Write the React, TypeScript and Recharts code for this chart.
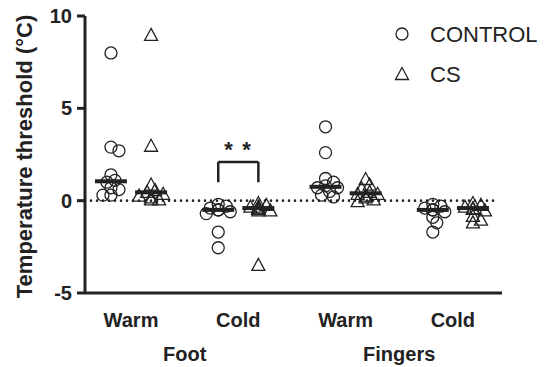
import { ReferenceDot, ReferenceLine, Scatter, ScatterChart, XAxis, YAxis } from "recharts";

const conditions = ["Warm", "Cold", "Warm", "Cold"];
const regions = ["Foot", "Fingers"];
const conditionTicks = [0, 1, 2, 3];
const regionTicks = [0.5, 2.5];
const yTicks = [-5, 0, 5, 10];

// thresholds per condition (Foot warm, Foot cold, Fingers warm, Fingers cold)
const controlValues = [
  [8.0, 2.9, 2.7, 1.4, 1.1, 1.0, 0.7, 0.6, 0.3, 0.3],
  [-0.2, -0.3, -0.4, -0.5, -0.5, -0.5, -0.6, -0.7, -1.7, -2.55],
  [4.0, 2.6, 1.2, 1.0, 0.8, 0.7, 0.7, 0.5, 0.3, 0.2],
  [-0.2, -0.3, -0.4, -0.5, -0.5, -0.5, -0.6, -0.9, -1.2, -1.7],
];
const csValues = [
  [9.0, 3.0, 0.9, 0.6, 0.5, 0.4, 0.3, 0.2, 0.1, 0.1],
  [-0.1, -0.2, -0.3, -0.3, -0.4, -0.4, -0.4, -0.5, -0.5, -3.45],
  [1.2, 0.9, 0.7, 0.5, 0.4, 0.4, 0.3, 0.2, 0.1, 0.0],
  [-0.1, -0.2, -0.3, -0.4, -0.4, -0.4, -0.5, -0.8, -1.0, -1.15],
];

// significance bracket on foot / cold
const bracketGroup = 1;
const bracketLow = 1.0;
const bracketHigh = 2.1;
const starLevel = 2.35;

const INK = "#222";
const FONT = "'Liberation Sans', Arial, Helvetica, sans-serif";
const X_MIN = -0.429;
const X_MAX = 3.458;
const PAIR = 0.187;
const PX_X = 107.3;
const PX_Y = 18.47;

function median(vals: number[]) {
  const s = [...vals].sort((a, b) => a - b);
  const m = Math.floor(s.length / 2);
  return s.length % 2 ? s[m] : (s[m - 1] + s[m]) / 2;
}

// simple beeswarm so overlapping symbols spread sideways
function swarm(vals: number[], center: number) {
  const placed: { px: number; py: number }[] = [];
  const out: { x: number; y: number }[] = [];
  const order = [0, 1, -1, 2, -2, 3, -3];
  for (const v of [...vals].sort((a, b) => b - a)) {
    const py = v * PX_Y;
    let px = 0;
    for (const k of order) {
      const cand = k * 4;
      const hit = placed.some((p) => Math.hypot(p.px - cand, p.py - py) < 6);
      if (!hit) {
        px = cand;
        break;
      }
    }
    placed.push({ px, py });
    out.push({ x: center + px / PX_X, y: v });
  }
  return out;
}

const controlPoints = controlValues.flatMap((vals, g) => swarm(vals, g - PAIR));
const csPoints = csValues.flatMap((vals, g) => swarm(vals, g + PAIR));
const medians = [
  ...controlValues.map((vals, g) => ({ x: g - PAIR, y: median(vals) })),
  ...csValues.map((vals, g) => ({ x: g + PAIR, y: median(vals) })),
];

const Circle = (p: any) => <circle cx={p.cx} cy={p.cy} r={6} fill="none" stroke={INK} strokeWidth={1.3} />;
const Tri = (p: any) => (
  <polygon
    points={`${p.cx},${p.cy - 6} ${p.cx - 6.5},${p.cy + 6} ${p.cx + 6.5},${p.cy + 6}`}
    fill="none"
    stroke={INK}
    strokeWidth={1.3}
  />
);
const MedianBar = (p: any) => <rect x={p.cx - 16} y={p.cy - 2} width={32} height={4} fill={INK} />;

// condition labels on the first row, region labels on the second
const XTick = (p: any) => {
  const v = p.payload.value;
  const isRegion = regionTicks.includes(v);
  const label = isRegion ? regions[regionTicks.indexOf(v)] : conditions[conditionTicks.indexOf(v)];
  return (
    <text x={p.x} y={p.y + (isRegion ? 68 : 34)} textAnchor="middle" fontFamily={FONT} fontSize={20} fontWeight="bold" fill={INK}>
      {label}
    </text>
  );
};

const YLabel = (p: any) => {
  const vb = p.viewBox;
  const x = vb.x + 32;
  const y = vb.y + vb.height / 2 + 2;
  return (
    <text x={x} y={y} transform={`rotate(-90, ${x}, ${y})`} textAnchor="middle" fontFamily={FONT} fontSize={22} fontWeight="bold" fill={INK}>
      Temperature threshold (°C)
    </text>
  );
};

export default function App() {
  const tickFont = { fontFamily: FONT, fontSize: 20, fontWeight: "bold", fill: INK };
  return (
    <div style={{ position: "absolute", left: 0, top: 0, width: 544, height: 367 }}>
      <ScatterChart width={544} height={367} margin={{ top: 16, right: 42, bottom: 0, left: 0 }}>
        <XAxis
          dataKey="x"
          type="number"
          domain={[X_MIN, X_MAX]}
          ticks={[...conditionTicks, ...regionTicks].sort((a, b) => a - b)}
          allowDataOverflow
          height={74}
          tickLine={false}
          tickSize={0}
          tickMargin={0}
          axisLine={{ stroke: INK, strokeWidth: 3 }}
          tick={XTick}
          interval={0}
        />
        <YAxis
          dataKey="y"
          type="number"
          domain={[-5, 10]}
          ticks={yTicks}
          width={85}
          tickSize={8}
          tickMargin={5}
          tick={tickFont}
          tickLine={{ stroke: INK, strokeWidth: 3 }}
          axisLine={{ stroke: INK, strokeWidth: 3 }}
          interval={0}
          label={{ value: "Temperature threshold (°C)", content: YLabel }}
        />
        <ReferenceLine
          segment={[{ x: X_MIN, y: 0 }, { x: 3.38, y: 0 }]}
          stroke={INK}
          strokeWidth={2.6}
          strokeDasharray="0 6"
          strokeLinecap="round"
        />
        <Scatter name="CONTROL" data={controlPoints} shape={Circle} isAnimationActive={false} />
        <Scatter name="CS" data={csPoints} shape={Tri} isAnimationActive={false} />
        <Scatter name="median" data={medians} shape={MedianBar} isAnimationActive={false} legendType="none" />
        <ReferenceLine segment={[{ x: bracketGroup - PAIR, y: bracketLow }, { x: bracketGroup - PAIR, y: bracketHigh }]} stroke={INK} strokeWidth={2.5} />
        <ReferenceLine segment={[{ x: bracketGroup - PAIR, y: bracketHigh }, { x: bracketGroup + PAIR, y: bracketHigh }]} stroke={INK} strokeWidth={2.5} />
        <ReferenceLine segment={[{ x: bracketGroup + PAIR, y: bracketLow }, { x: bracketGroup + PAIR, y: bracketHigh }]} stroke={INK} strokeWidth={2.5} />
        <ReferenceDot
          x={bracketGroup}
          y={starLevel}
          r={0}
          shape={(p: any) => (
            <text x={p.cx} y={p.cy} textAnchor="middle" fontFamily={FONT} fontSize={22} fontWeight="bold" letterSpacing={1.6} fill={INK}>
              * *
            </text>
          )}
        />
      </ScatterChart>
      <svg width={150} height={80} style={{ position: "absolute", left: 390, top: 18 }}>
        <circle cx={12} cy={16} r={6} fill="none" stroke={INK} strokeWidth={1.3} />
        <text x={40} y={24} fontFamily={FONT} fontSize={22} fill={INK}>CONTROL</text>
        <polygon points="12,49.5 5.5,61.5 18.5,61.5" fill="none" stroke={INK} strokeWidth={1.3} />
        <text x={40} y={63.5} fontFamily={FONT} fontSize={22} fill={INK}>CS</text>
      </svg>
    </div>
  );
}
